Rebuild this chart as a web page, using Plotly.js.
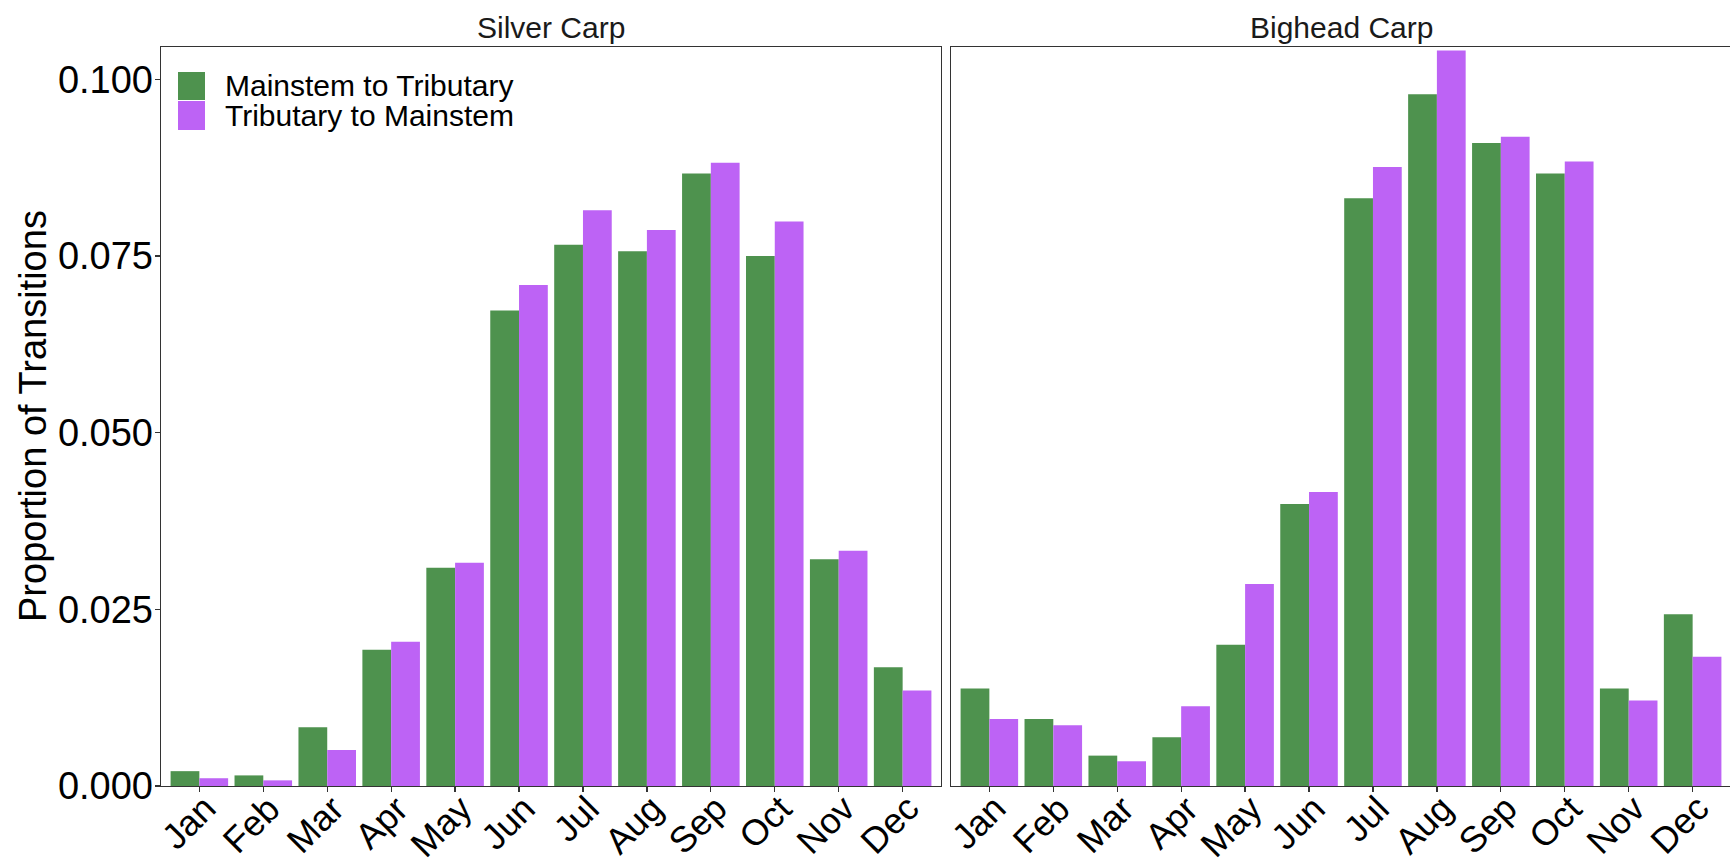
<!DOCTYPE html>
<html>
<head>
<meta charset="utf-8">
<script src="https://cdn.plot.ly/plotly-3.0.1.min.js"></script>
<style>
  html, body { margin: 0; padding: 0; background: #fff; overflow: hidden; }
  #chart { width: 1731px; height: 864px; }
</style>
</head>
<body>
<div id="chart"></div>
<script>
// Monthly proportions of habitat transitions for two carp species
const months = ['Jan', 'Feb', 'Mar', 'Apr', 'May', 'Jun', 'Jul', 'Aug', 'Sep', 'Oct', 'Nov', 'Dec'];
const seriesNames = ['Mainstem to Tributary', 'Tributary to Mainstem'];
const panelTitles = ['Silver Carp', 'Bighead Carp'];

const silverMainToTrib = [0.0021, 0.0015, 0.0083, 0.0193, 0.0309, 0.0673, 0.0766, 0.0757, 0.0867, 0.0750, 0.0321, 0.0168];
const silverTribToMain = [0.0011, 0.0008, 0.0051, 0.0204, 0.0316, 0.0709, 0.0815, 0.0787, 0.0882, 0.0799, 0.0333, 0.0135];
const bigheadMainToTrib = [0.0138, 0.0095, 0.0043, 0.0069, 0.0200, 0.0399, 0.0832, 0.0979, 0.0910, 0.0867, 0.0138, 0.0243];
const bigheadTribToMain = [0.0095, 0.0086, 0.0035, 0.0113, 0.0286, 0.0416, 0.0876, 0.1041, 0.0919, 0.0884, 0.0121, 0.0183];

const colors = ['#4E924E', '#BD63F5'];
const FONT = 'Liberation Sans, Arial, Helvetica, sans-serif';

const W = 1731, H = 864;
// panel frames in pixels
const leftPanel = [161, 941];
const rightPanel = [951, 1731];
const plotTop = 47, plotBottom = 786;

const px = v => v / W;
const py = v => 1 - v / H;

function bar(x, y, name, color, xa, ya) {
  return {
    type: 'bar', x: x, y: y, name: name, xaxis: xa, yaxis: ya,
    marker: { color: color, line: { width: 0 } },
    showlegend: false, hoverinfo: 'x+y+name'
  };
}

const traces = [
  bar(months, silverMainToTrib, seriesNames[0], colors[0], 'x', 'y'),
  bar(months, silverTribToMain, seriesNames[1], colors[1], 'x', 'y'),
  bar(months, bigheadMainToTrib, seriesNames[0], colors[0], 'x2', 'y2'),
  bar(months, bigheadTribToMain, seriesNames[1], colors[1], 'x2', 'y2')
];

const yRange = [0, 0.1046];
const frameColor = '#333333';

function xAxis(domain, anchor) {
  return {
    domain: domain, anchor: anchor, type: 'category',
    categoryorder: 'array', categoryarray: months,
    range: [-0.6, 11.6], fixedrange: true,
    showline: true, mirror: true, linecolor: frameColor, linewidth: 1.4,
    ticks: 'outside', ticklen: 5, tickwidth: 1.3, tickcolor: frameColor,
    showticklabels: false,
    showgrid: false, zeroline: false, automargin: false
  };
}

// angled month labels, end of each word tucked under its tick
const monthLabels = [];
['x', 'x2'].forEach(function (xa) {
  months.forEach(function (m) {
    monthLabels.push({
      text: m, xref: xa, yref: 'paper', x: m, y: py(785),
      xanchor: 'right', yanchor: 'top', xshift: 27,
      textangle: -45, showarrow: false,
      font: { family: FONT, size: 36, color: '#000' }
    });
  });
});

const layout = {
  width: W, height: H,
  margin: { l: 0, r: 0, t: 0, b: 0 },
  paper_bgcolor: '#fff', plot_bgcolor: '#fff',
  barmode: 'group', bargap: 0.1, bargroupgap: 0,
  showlegend: false,
  font: { family: FONT, color: '#000' },
  xaxis: xAxis([px(leftPanel[0]), px(leftPanel[1])], 'y'),
  xaxis2: xAxis([px(rightPanel[0]), px(rightPanel[1])], 'y2'),
  yaxis: {
    domain: [py(plotBottom), py(plotTop)], anchor: 'x', range: yRange,
    fixedrange: true,
    tickvals: [0, 0.025, 0.05, 0.075, 0.1], tickformat: '.3f',
    showline: true, mirror: true, linecolor: frameColor, linewidth: 1.4,
    ticks: 'outside', ticklen: 5, tickwidth: 1.3, tickcolor: frameColor,
    ticklabelstandoff: -6,
    tickfont: { family: FONT, size: 38, color: '#000' },
    showgrid: false, zeroline: false, automargin: false
  },
  yaxis2: {
    domain: [py(plotBottom), py(plotTop)], anchor: 'x2', range: yRange,
    fixedrange: true, matches: 'y',
    showticklabels: false, ticks: '',
    showline: true, mirror: true, linecolor: frameColor, linewidth: 1.4,
    showgrid: false, zeroline: false, automargin: false
  },
  annotations: [
    {
      text: panelTitles[0], xref: 'x domain', yref: 'paper', x: 0.5, y: py(27),
      xanchor: 'center', yanchor: 'middle', showarrow: false,
      font: { family: FONT, size: 30, color: '#1a1a1a' }
    },
    {
      text: panelTitles[1], xref: 'x2 domain', yref: 'paper', x: 0.5, y: py(27),
      xanchor: 'center', yanchor: 'middle', showarrow: false,
      font: { family: FONT, size: 30, color: '#1a1a1a' }
    },
    {
      text: 'Proportion of Transitions', xref: 'paper', yref: 'paper',
      x: px(33), y: py(416), xanchor: 'center', yanchor: 'middle',
      textangle: -90, showarrow: false,
      font: { family: FONT, size: 38, color: '#000' }
    },
    {
      text: seriesNames[0], xref: 'paper', yref: 'paper',
      x: px(223), y: py(86), xanchor: 'left', yanchor: 'middle', showarrow: false,
      font: { family: FONT, size: 30, color: '#000' }
    },
    {
      text: seriesNames[1], xref: 'paper', yref: 'paper',
      x: px(223), y: py(115), xanchor: 'left', yanchor: 'middle', showarrow: false,
      font: { family: FONT, size: 30, color: '#000' }
    }
  ].concat(monthLabels),
  shapes: [
    {
      type: 'rect', xref: 'paper', yref: 'paper',
      x0: px(178), x1: px(205), y0: py(100), y1: py(72),
      fillcolor: colors[0], line: { width: 0 }
    },
    {
      type: 'rect', xref: 'paper', yref: 'paper',
      x0: px(178), x1: px(205), y0: py(130), y1: py(101),
      fillcolor: colors[1], line: { width: 0 }
    }
  ]
};

Plotly.newPlot('chart', traces, layout, { displayModeBar: false, staticPlot: true });
</script>
</body>
</html>
